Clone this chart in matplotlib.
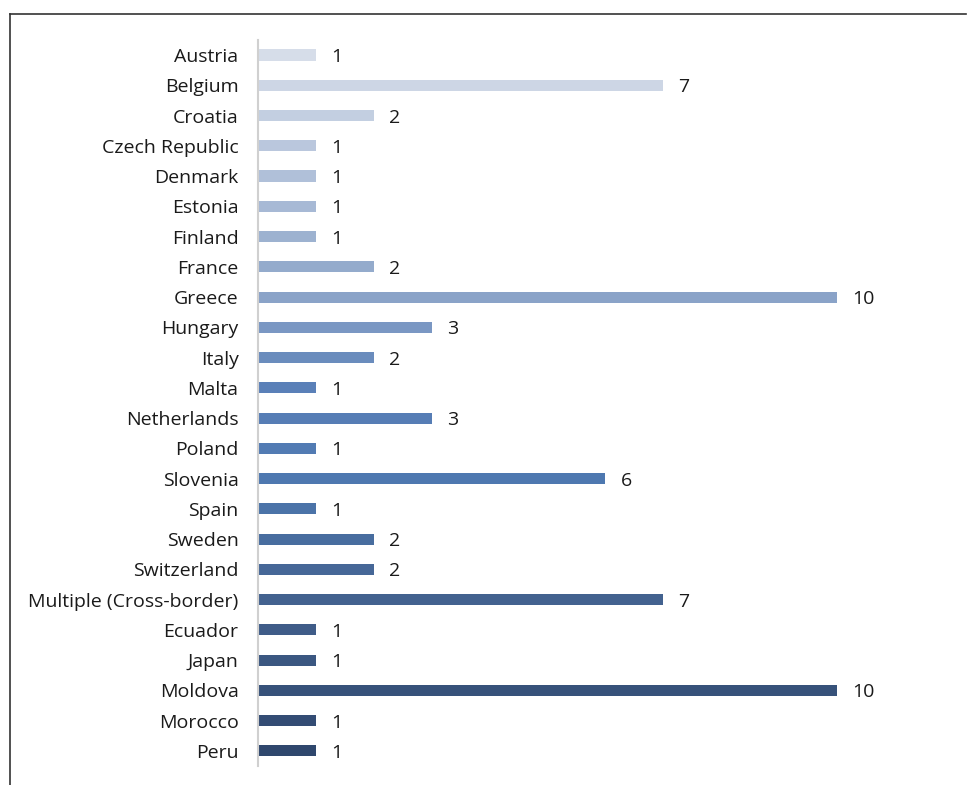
import matplotlib.pyplot as plt
import matplotlib.lines as mlines
from matplotlib.colors import LinearSegmentedColormap
import numpy as np

countries = ["Austria", "Belgium", "Croatia", "Czech Republic", "Denmark", "Estonia",
             "Finland", "France", "Greece", "Hungary", "Italy", "Malta", "Netherlands",
             "Poland", "Slovenia", "Spain", "Sweden", "Switzerland",
             "Multiple (Cross-border)", "Ecuador", "Japan", "Moldova", "Morocco", "Peru"]
counts = [1, 7, 2, 1, 1, 1, 1, 2, 10, 3, 2, 1, 3, 1, 6, 1, 2, 2, 7, 1, 1, 10, 1, 1]

plt.rcParams['font.family'] = ['Open Sans', 'DejaVu Sans']

# light-to-dark blue ramp down the list
n = len(countries)
ramp = LinearSegmentedColormap.from_list('blues', [
    (0.0, '#d6dde9'), (8 / 23, '#8aa3c8'), (11 / 23, '#5a80b8'),
    (14 / 23, '#4e78b0'), (18 / 23, '#43628f'), (1.0, '#2f476d')])
colors = [ramp(v) for v in np.linspace(0, 1, n)]

fig = plt.figure(figsize=(9.67, 7.85), dpi=100)
ax = fig.add_axes([0.2668, 0.0242, 0.69, 0.9249])

y = np.arange(n)
bars = ax.barh(y, counts, height=0.37, color=colors)
for b, v in zip(bars, counts):
    ax.annotate(str(v), (b.get_width(), b.get_y() + b.get_height() / 2),
                xytext=(11, 0), textcoords='offset points',
                va='center_baseline', ha='left', fontsize=14, color='#1a1a1a')

ax.set_yticks(y)
ax.set_yticklabels(countries, fontsize=14, color='#1a1a1a')
ax.set_ylim(n - 0.5, -0.5)
ax.set_xlim(0, 0.69 * 967 / 57.9)
ax.tick_params(axis='y', length=0, pad=14)
ax.set_xticks([])
for s in ['top', 'right', 'bottom']:
    ax.spines[s].set_visible(False)
ax.spines['left'].set_color('#d0d0d0')
ax.spines['left'].set_linewidth(1.5)

# outer frame (top and left edges)
x0, y0 = 10 / 967, 1 - 14 / 785
fig.lines.extend([
    mlines.Line2D([x0, 0.999], [y0, y0], transform=fig.transFigure, color='#333333', lw=1.2),
    mlines.Line2D([x0, x0], [0, y0], transform=fig.transFigure, color='#333333', lw=1.2),
])

fig.savefig('out.png', dpi=100)
